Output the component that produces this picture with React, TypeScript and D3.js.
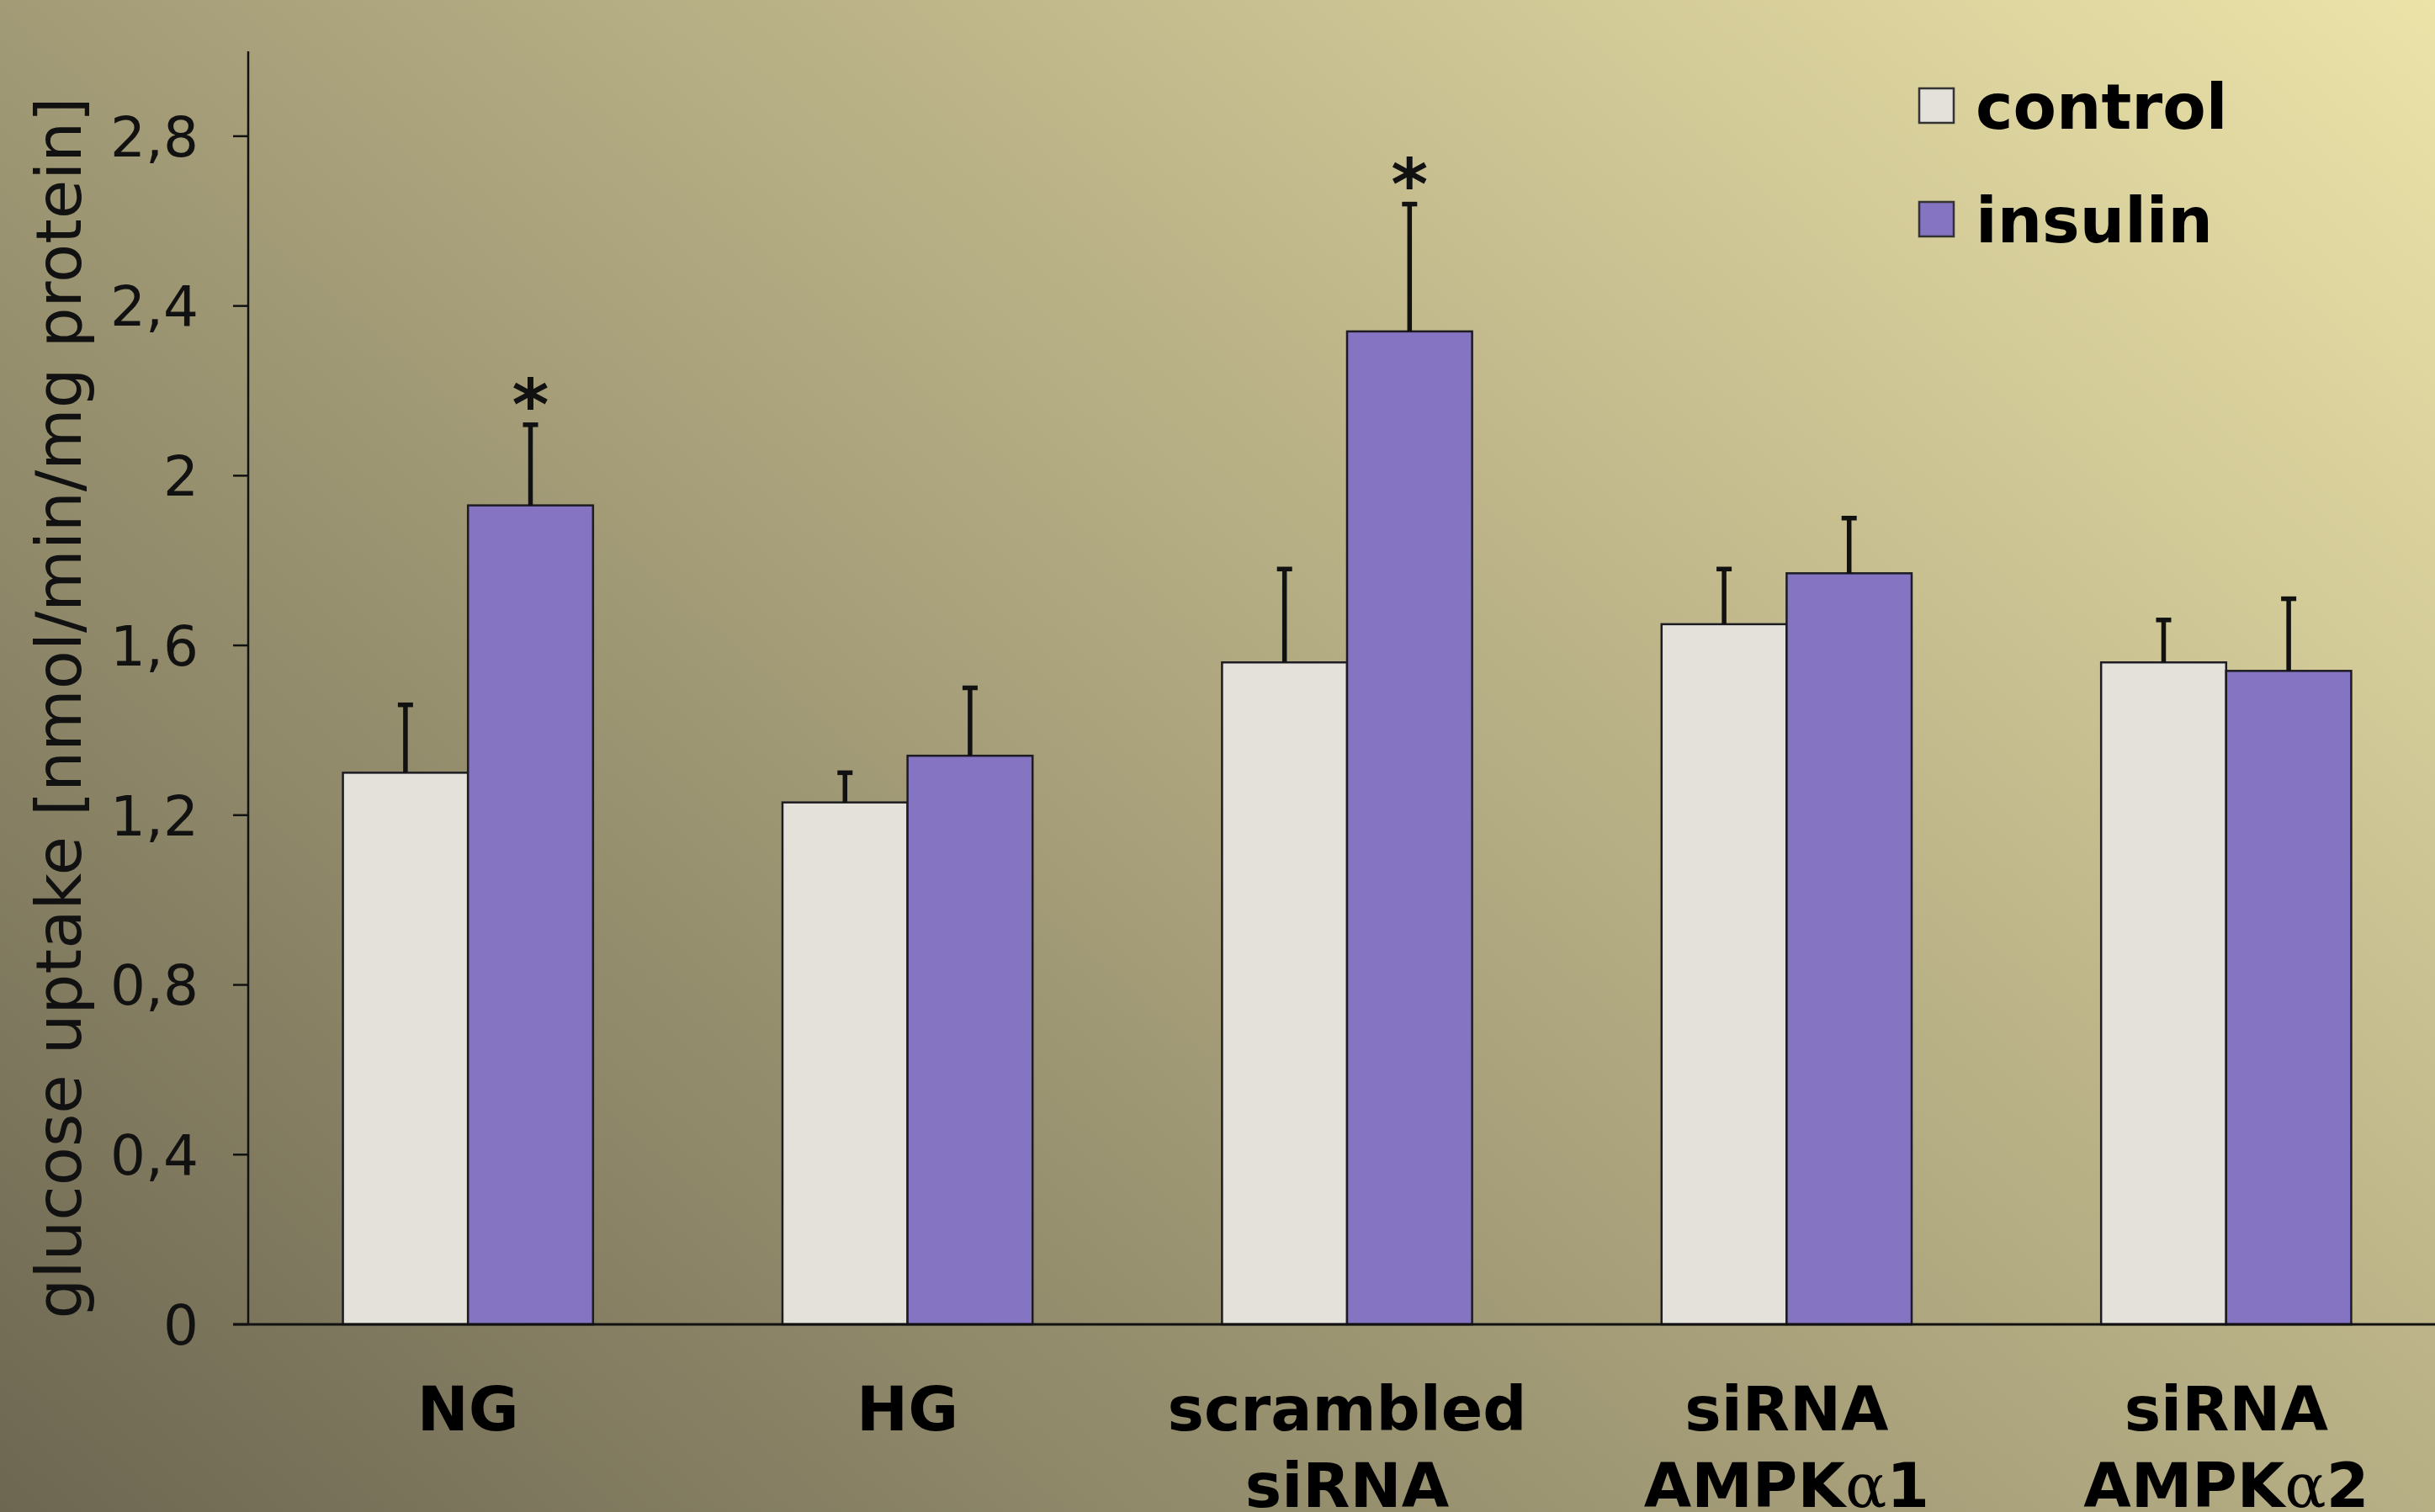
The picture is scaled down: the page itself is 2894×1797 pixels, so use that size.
import * as d3 from "d3";

const categories = [["NG"], ["HG"], ["scrambled", "siRNA"], ["siRNA", "AMPKα1"], ["siRNA", "AMPKα2"]];
const seriesNames = ["control", "insulin"];
const control = [1.3, 1.23, 1.56, 1.65, 1.56];
const controlErr = [0.16, 0.07, 0.22, 0.13, 0.1];
const insulin = [1.93, 1.34, 2.34, 1.77, 1.54];
const insulinErr = [0.19, 0.16, 0.3, 0.13, 0.17];
const insulinStar = [true, false, true, false, false];
const yTicks = [0, 0.4, 0.8, 1.2, 1.6, 2, 2.4, 2.8];

const W = 2894;
const H = 1797;
const colors = ["#e3e1d9", "#8574c2"];
const font = "'DejaVu Sans', Verdana, sans-serif";

export default function App() {
  const axisX = 295;
  const zeroY = 1574;

  const y = d3.scaleLinear().domain([0, 3]).range([zeroY, 61]);
  const x = d3
    .scaleBand<number>()
    .domain(d3.range(categories.length))
    .range([axisX, 2907])
    .paddingInner(0.431)
    .paddingOuter(0.2155);
  const xs = d3.scaleBand<string>().domain(seriesNames).range([0, x.bandwidth()]);

  const values = [control, insulin];
  const errs = [controlErr, insulinErr];
  // 0,4 style with decimal comma, whole numbers without decimals
  const fmt = (v: number) => d3.format("~g")(v).replace(".", ",");

  const label = (s: string) => {
    const i = s.indexOf("α");
    if (i < 0) return s;
    return (
      <>
        {s.slice(0, i)}
        <tspan fontFamily="'DejaVu Serif', serif" fontWeight="normal">α</tspan>
        {s.slice(i + 1)}
      </>
    );
  };

  return (
    <svg width={W} height={H} style={{ position: "absolute", left: 0, top: 0, display: "block" }}>
      <defs>
        <linearGradient id="bg" gradientUnits="userSpaceOnUse" x1={0} y1={H} x2={2131} y2={H - 2459}>
          <stop offset="0" stopColor="#6d6752" />
          <stop offset="1" stopColor="#ece3a9" />
        </linearGradient>
      </defs>
      <rect width={W} height={H} fill="url(#bg)" />

      {/* bars */}
      {categories.map((_, i) =>
        seriesNames.map((s, j) => {
          const v = values[j][i];
          return (
            <rect
              key={`b${i}${j}`}
              x={x(i)! + xs(s)!}
              y={y(v)}
              width={xs.bandwidth()}
              height={zeroY - y(v)}
              fill={colors[j]}
              stroke="#1c1c22"
              strokeWidth={2.5}
            />
          );
        })
      )}

      {/* error bars */}
      {categories.map((_, i) =>
        seriesNames.map((s, j) => {
          const v = values[j][i];
          const cx = x(i)! + xs(s)! + xs.bandwidth() / 2;
          const top = y(v + errs[j][i]);
          return (
            <g key={`e${i}${j}`} stroke="#111" strokeWidth={5.5}>
              <line x1={cx} x2={cx} y1={y(v)} y2={top} />
              <line x1={cx - 9} x2={cx + 9} y1={top} y2={top} />
            </g>
          );
        })
      )}

      {/* significance */}
      {categories.map((_, i) =>
        insulinStar[i] ? (
          <text
            key={`s${i}`}
            x={x(i)! + xs("insulin")! + xs.bandwidth() / 2}
            y={y(insulin[i] + insulinErr[i]) + 5}
            textAnchor="middle"
            fontFamily={font}
            fontWeight="bold"
            fontSize={84}
            fill="#111"
          >
            *
          </text>
        ) : null
      )}

      {/* axes */}
      <line x1={axisX} x2={axisX} y1={61} y2={zeroY} stroke="#111" strokeWidth={2.5} />
      <line x1={axisX - 18} x2={W} y1={zeroY} y2={zeroY} stroke="#111" strokeWidth={3} />
      {yTicks.map((t) => (
        <g key={t}>
          <line x1={axisX - 18} x2={axisX} y1={y(t)} y2={y(t)} stroke="#111" strokeWidth={2.5} />
          <text
            x={236}
            y={y(t)}
            dy="0.36em"
            textAnchor="end"
            fontFamily={font}
            fontSize={66}
            fill="#111"
          >
            {fmt(t)}
          </text>
        </g>
      ))}

      <text
        transform={`translate(96,${(zeroY + 61) / 2 + 24}) rotate(-90)`}
        textAnchor="middle"
        fontFamily={font}
        fontSize={75.5}
        fill="#111"
      >
        glucose uptake [nmol/min/mg protein]
      </text>

      {/* category labels */}
      {categories.map((lines, i) => (
        <text
          key={`c${i}`}
          x={x(i)! + x.bandwidth() / 2}
          y={1700}
          textAnchor="middle"
          fontFamily={font}
          fontWeight="bold"
          fontSize={73}
          fill="#000"
        >
          {lines.map((l, k) => (
            <tspan key={k} x={x(i)! + x.bandwidth() / 2} dy={k === 0 ? 0 : 91}>
              {label(l)}
            </tspan>
          ))}
        </text>
      ))}

      {/* legend */}
      {seriesNames.map((s, j) => (
        <g key={s} transform={`translate(2281,${105 + j * 135})`}>
          <rect width={41} height={41} fill={colors[j]} stroke="#333" strokeWidth={2.5} />
          <text x={67} y={48} fontFamily={font} fontWeight="bold" fontSize={75} fill="#000">
            {s}
          </text>
        </g>
      ))}
    </svg>
  );
}
